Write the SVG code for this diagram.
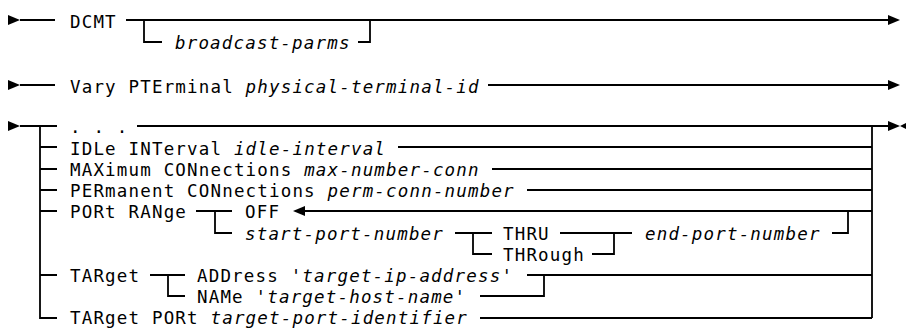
<svg xmlns="http://www.w3.org/2000/svg" width="906" height="329" viewBox="0 0 906 329">
<style>
text{font-family:"DejaVu Sans Mono","Liberation Mono",monospace;font-size:17.5px;letter-spacing:1.17px;fill:#000;white-space:pre}
.i{font-style:italic}
.c path{fill:none;stroke:#000;stroke-width:1.8}
.a{fill:#000}
</style>
<rect width="906" height="329" fill="#fff"/>
<g id="connectors" class="c">
<path d="M20 20H55M126 20H888M144 20V42H162M358 42H370V20"/>
<path d="M20 85H55M488 85H888"/>
<path d="M20 126H57M40 126V318H57M40 147H57M40 169H57M40 190H57M40 211H57M40 275H57"/>
<path d="M137 126H888M872 126V318"/>
<path d="M398 147H872M492 169H872M527 190H872"/>
<path d="M196 211H232M215 211V233H232M305 211H872"/>
<path d="M455 233H492M473 233V254H492M560 233H632M592 254H614V233M832 233H848V211"/>
<path d="M150 275H185M168 275V296H185M527 275H872M480 296H544V275"/>
<path d="M480 318H872"/>
</g>
<g id="arrows" class="a">
<polygon points="8,15 8,25 20,20"/>
<polygon points="888,15 888,25 900,20"/>
<polygon points="8,80 8,90 20,85"/>
<polygon points="888,80 888,90 900,85"/>
<polygon points="8,121 8,131 20,126"/>
<polygon points="888,121 888,131 900,126"/>
<polygon points="900,126 912,120 912,132"/>
<polygon points="293,211 305,206 305,216"/>
</g>
<g id="dcmt"><text x="70" y="28">DCMT</text></g>
<g id="broadcast-parms"><text x="175" y="49" class="i">broadcast-parms</text></g>
<g id="vary"><text x="70" y="92.5">Vary PTErminal <tspan class="i">physical-terminal-id</tspan></text></g>
<g id="dots"><text x="70" y="133">. . .</text></g>
<g id="idle"><text x="70" y="154.5">IDLe INTerval <tspan class="i">idle-interval</tspan></text></g>
<g id="maximum"><text x="70" y="176">MAXimum CONnections <tspan class="i">max-number-conn</tspan></text></g>
<g id="permanent"><text x="70" y="197">PERmanent CONnections <tspan class="i">perm-conn-number</tspan></text></g>
<g id="port-range"><text x="70" y="218">PORt RANge</text></g>
<g id="off"><text x="245" y="218">OFF</text></g>
<g id="start-port"><text x="245" y="240" class="i">start-port-number</text></g>
<g id="thru"><text x="503" y="240">THRU</text></g>
<g id="through"><text x="503" y="261">THRough</text></g>
<g id="end-port"><text x="645" y="240" class="i">end-port-number</text></g>
<g id="target"><text x="70" y="282">TARget</text></g>
<g id="address"><text x="197" y="282">ADDress '<tspan class="i">target-ip-address</tspan>'</text></g>
<g id="name"><text x="197" y="303">NAMe '<tspan class="i">target-host-name</tspan>'</text></g>
<g id="target-port"><text x="70" y="324">TARget PORt <tspan class="i">target-port-identifier</tspan></text></g>
</svg>
